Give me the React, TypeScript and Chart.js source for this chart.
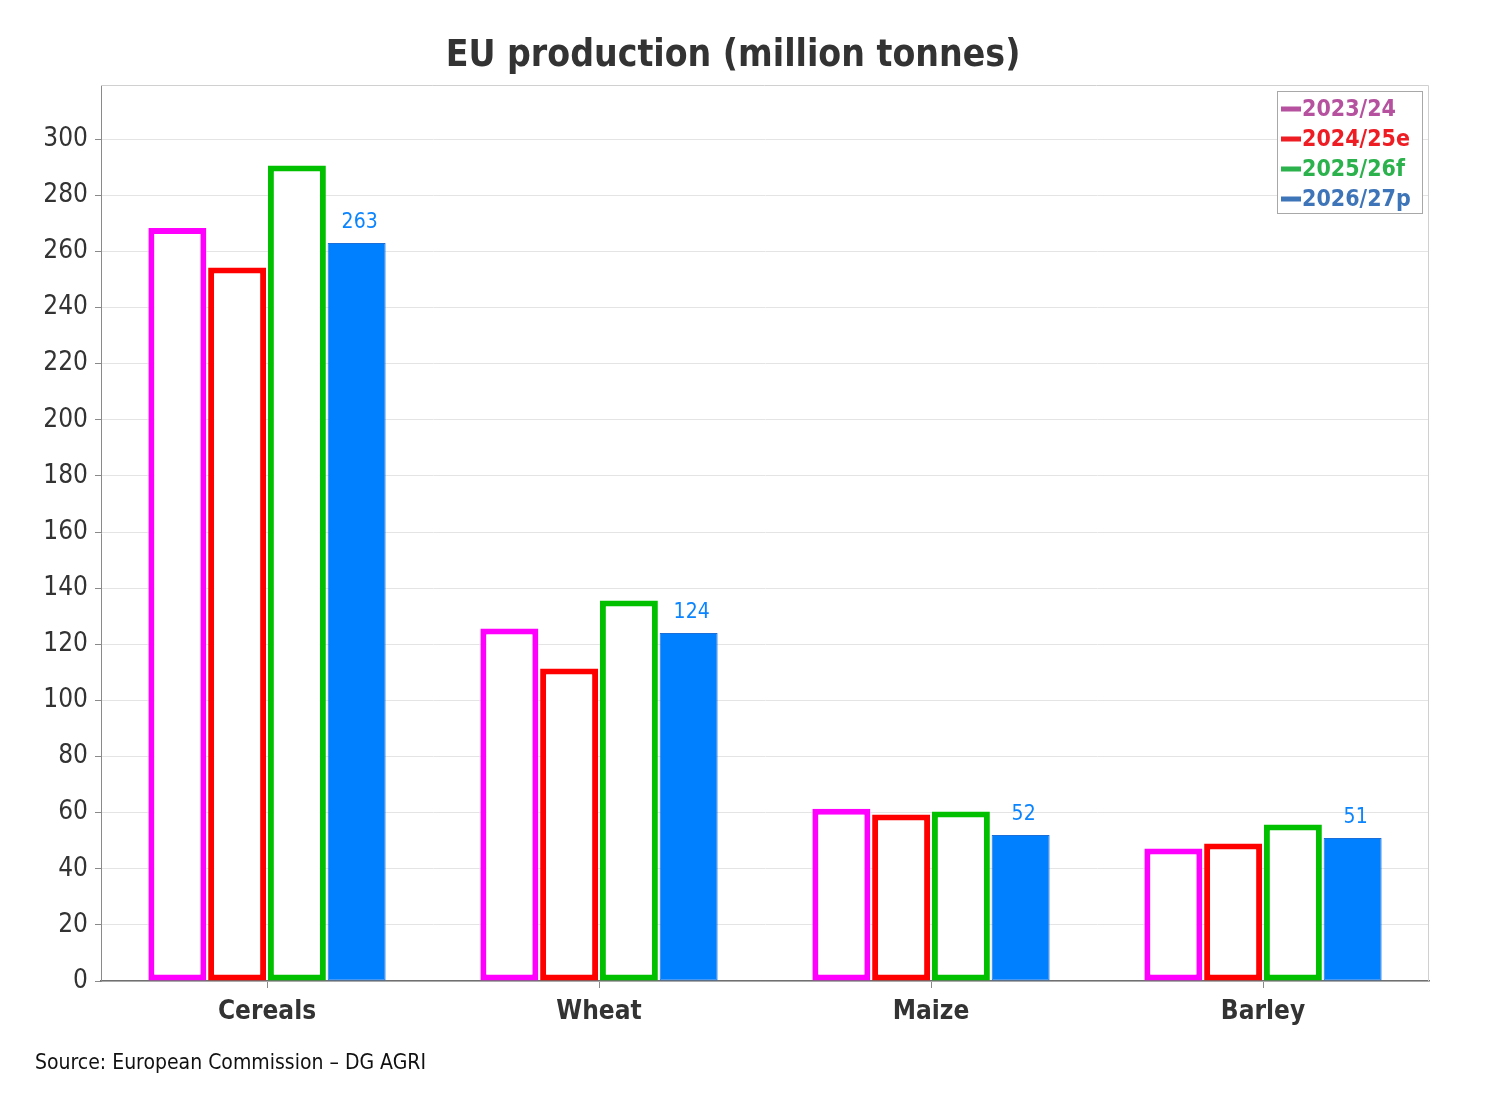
import React, { useRef, useEffect } from "react";
import { Chart, registerables } from "chart.js";

Chart.register(...registerables);

const categories = ["Cereals", "Wheat", "Maize", "Barley"];
const seriesNames = ["2023/24", "2024/25e", "2025/26f", "2026/27p"];
const values2023 = [268.3, 125.6, 61.4, 47.2];
const values2024 = [254.3, 111.4, 59.3, 49];
const values2025 = [290.6, 135.6, 60.4, 55.8];
const values2026 = [263, 124, 52, 51];
const valueLabels = ["263", "124", "52", "51"];
const yTicks = [0, 20, 40, 60, 80, 100, 120, 140, 160, 180, 200, 220, 240, 260, 280, 300];

const FONT = "'DejaVu Sans Condensed', 'DejaVu Sans', sans-serif";
const legendColors = ["#b5519f", "#ee1d24", "#2bb24c", "#3e74b8"];

// title, legend box, labels on the blue bars, source line
const extrasPlugin = {
  id: "extras",
  afterDraw(chart: any) {
    const ctx = chart.ctx;
    const area = chart.chartArea;
    ctx.save();

    // top and right frame
    ctx.strokeStyle = "#d0d0d0";
    ctx.lineWidth = 1;
    ctx.beginPath();
    ctx.moveTo(area.left, area.top + 0.5);
    ctx.lineTo(area.right - 0.5, area.top + 0.5);
    ctx.lineTo(area.right - 0.5, area.bottom);
    ctx.stroke();

    // title
    ctx.fillStyle = "#333333";
    ctx.font = `bold 37px ${FONT}`;
    ctx.textAlign = "center";
    ctx.textBaseline = "middle";
    ctx.fillText("EU production (million tonnes)", 725, 48);

    // values above last series
    const meta = chart.getDatasetMeta(3);
    ctx.fillStyle = "#0a84ff";
    ctx.font = `21px ${FONT}`;
    ctx.textBaseline = "alphabetic";
    meta.data.forEach((bar: any, i: number) => {
      ctx.fillText(valueLabels[i], bar.x + 3, bar.y - 15);
    });

    // legend
    const lx = 1269, ly = 83, lw = 145, lh = 122;
    ctx.fillStyle = "#ffffff";
    ctx.fillRect(lx, ly, lw, lh);
    ctx.strokeStyle = "#a8a8a8";
    ctx.strokeRect(lx + 0.5, ly + 0.5, lw, lh);
    ctx.font = `bold 23px ${FONT}`;
    ctx.textAlign = "left";
    ctx.textBaseline = "middle";
    seriesNames.forEach((name, i) => {
      const y = ly + 18 + i * 30;
      ctx.fillStyle = legendColors[i];
      ctx.fillRect(lx + 4, y - 2.5, 20, 5);
      ctx.fillText(name, lx + 25, y + 1);
    });

    // source
    ctx.fillStyle = "#111111";
    ctx.font = `21px ${FONT}`;
    ctx.textAlign = "left";
    ctx.fillText("Source: European Commission \u2013 DG AGRI", 27, 1056);

    ctx.restore();
  },
};

const ProductionChart: React.FC = () => {
  const chartRef = useRef<HTMLCanvasElement | null>(null);

  useEffect(() => {
    if (!chartRef.current) return;
    const ctx = chartRef.current.getContext("2d");
    if (!ctx) return;

    const outline = (color: string) => ({
      backgroundColor: "#ffffff",
      borderColor: color,
      borderWidth: 6,
      borderSkipped: false as const,
    });

    const chartInstance = new Chart(ctx, {
      type: "bar",
      data: {
        labels: categories,
        datasets: [
          { label: seriesNames[0], data: values2023, ...outline("#ff00ff") },
          { label: seriesNames[1], data: values2024, ...outline("#ff0000") },
          { label: seriesNames[2], data: values2025, ...outline("#00c000") },
          {
            label: seriesNames[3],
            data: values2026,
            backgroundColor: "#007fff",
            borderColor: "#1a6fd8",
            borderWidth: 1,
            borderSkipped: false,
          },
        ],
      },
      options: {
        animation: false,
        responsive: false,
        maintainAspectRatio: false,
        layout: { padding: { top: 77, right: 73, bottom: 45, left: 0 } },
        datasets: {
          bar: { categoryPercentage: 0.72, barPercentage: 0.97 },
        },
        plugins: {
          legend: { display: false },
          title: { display: false },
          tooltip: { enabled: false },
        },
        scales: {
          x: {
            grid: {
              offset: false,
              drawOnChartArea: false,
              drawTicks: true,
              tickLength: 7,
              color: "#8a8a8a",
            },
            border: { color: "#707070", width: 1.5 },
            ticks: {
              color: "#333333",
              font: { family: FONT, size: 26, weight: "bold" },
              padding: 9,
            },
            afterFit: (scale: any) => {
              scale.height = 60;
            },
          },
          y: {
            min: 0,
            max: 319.3,
            afterBuildTicks: (scale: any) => {
              scale.ticks = yTicks.map((v) => ({ value: v }));
            },
            grid: {
              color: "#e4e4e4",
              tickLength: 6,
              tickColor: "#8a8a8a",
            },
            border: { color: "#8a8a8a", width: 1 },
            ticks: {
              color: "#333333",
              font: { family: FONT, size: 26 },
              padding: 7,
            },
            afterFit: (scale: any) => {
              scale.width = 93;
            },
          },
        },
      },
      plugins: [extrasPlugin],
    });

    return () => {
      chartInstance.destroy();
    };
  }, []);

  return (
    <div style={{ position: "relative", width: 1494, height: 1078, background: "#ffffff" }}>
      <canvas ref={chartRef} width={1494} height={1078} style={{ width: 1494, height: 1078 }} />
    </div>
  );
};

export default function App() {
  return <ProductionChart />;
}
